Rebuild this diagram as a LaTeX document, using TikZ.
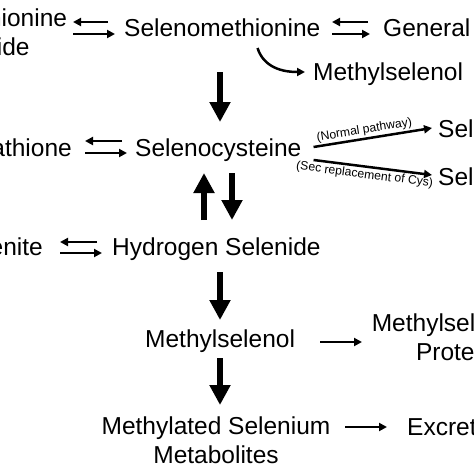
\documentclass[tikz,border=0pt]{standalone}
\usepackage{fontspec}
\setmainfont{Liberation Sans}
\usetikzlibrary{arrows.meta}
\begin{document}
\begin{tikzpicture}[x=1pt,y=-1pt,
  lbl/.style={inner sep=0pt, font=\fontsize{24.5}{28.5}\selectfont},
  lbl2/.style={lbl, align=center},
  tiny/.style={inner sep=1.5pt, font=\fontsize{12.2}{14}\selectfont},
  sa/.style={line width=2.5pt, -{Triangle[length=8pt,width=8pt]}},
  ba/.style={line width=6pt, -{Triangle[length=20pt,width=20pt]}}]
\useasboundingbox (0,0) rectangle (474,474);
\clip (0,0) rectangle (474,474);
\fill[white] (0,0) rectangle (474,474);
% nodes
\node[lbl, anchor=base west] (sem) at (124,36) {Selenomethionine};
\node[lbl2, anchor=base] (semox) at (-31,55) {Selenomethionine\\Selenoxide};
\node[lbl, anchor=base west] (gen) at (383,36) {General Proteins};
\node[lbl, anchor=base west] (msel1) at (313,80) {Methylselenol};
\node[lbl, anchor=base west] (sec) at (135,156) {Selenocysteine};
\node[lbl, anchor=base east] (glu) at (72,156) {Selenoglutathione};
\node[lbl, anchor=base west] (selp1) at (438,137) {Selenoproteins};
\node[lbl, anchor=base west] (selp2) at (438,185) {Selenium-containing Proteins};
\node[lbl, anchor=base west] (hse) at (112,255) {Hydrogen Selenide};
\node[lbl, anchor=base east] (selenite) at (43,255) {Selenite};
\node[lbl, anchor=base west] (msel2) at (145,347) {Methylselenol};
\node[lbl2, anchor=base] (mprot) at (461,360) {Methylselenated\\Proteins};
\node[lbl2, anchor=base] (mmet) at (216,463) {Methylated Selenium\\Metabolites};
\node[lbl, anchor=base west] (excr) at (407,435) {Excretion};
% equilibria top
\draw[sa] ([xshift=-16pt,yshift=14pt]sem.base west) -- ([xshift=-51pt,yshift=14pt]sem.base west);
\draw[sa] ([xshift=-51pt,yshift=2pt]sem.base west) -- ([xshift=-9pt,yshift=2pt]sem.base west);
\draw[sa] ([xshift=-15pt,yshift=14pt]gen.base west) -- ([xshift=-51pt,yshift=14pt]gen.base west);
\draw[sa] ([xshift=-51pt,yshift=2pt]gen.base west) -- ([xshift=-13pt,yshift=2pt]gen.base west);
% curved to methylselenol
\draw[sa] ([xshift=-63pt,yshift=-12pt]sem.base east) .. controls ([xshift=-58pt,yshift=-28pt]sem.base east) and ([xshift=-36pt,yshift=8pt]msel1.base west) .. ([xshift=-8pt,yshift=8pt]msel1.base west);
% big down
\draw[ba] ([xshift=96pt,yshift=-36pt]sem.base west) -- ([xshift=85pt,yshift=34pt]sec.base west);
% glu <-> sec
\draw[sa] ([xshift=-13pt,yshift=15pt]sec.base west) -- ([xshift=-50pt,yshift=15pt]sec.base west);
\draw[sa] ([xshift=-50pt,yshift=3pt]sec.base west) -- ([xshift=-8pt,yshift=3pt]sec.base west);
% branches
\draw[sa] ([xshift=12pt,yshift=9pt]sec.base east) -- node[tiny, sloped, above, pos=0.44] {(Normal pathway)} ([xshift=-6pt,yshift=9pt]selp1.base west);
\draw[sa] ([xshift=12pt,yshift=-4pt]sec.base east) -- node[tiny, sloped, below, pos=0.44] {(Sec replacement of Cys)} ([xshift=-6pt,yshift=10pt]selp2.base west);
% vertical pair
\draw[ba] ([xshift=92pt,yshift=35pt]hse.base west) -- ([xshift=69pt,yshift=-17pt]sec.base west);
\draw[ba] ([xshift=97pt,yshift=-17pt]sec.base west) -- ([xshift=120pt,yshift=35pt]hse.base west);
% selenite <-> hse
\draw[sa] ([xshift=-15pt,yshift=13pt]hse.base west) -- ([xshift=-52pt,yshift=13pt]hse.base west);
\draw[sa] ([xshift=-52pt,yshift=2pt]hse.base west) -- ([xshift=-10pt,yshift=2pt]hse.base west);
% down to methylselenol
\draw[ba] ([xshift=108pt,yshift=-17pt]hse.base west) -- ([xshift=75pt,yshift=27pt]msel2.base west);
% methylselenol -> proteins
\draw[sa] ([xshift=175pt,yshift=5pt]msel2.base west) -- ([xshift=217pt,yshift=5pt]msel2.base west);
% down to metabolites
\draw[ba] ([xshift=75pt,yshift=-11pt]msel2.base west) -- ([xshift=75pt,yshift=-58pt]msel2.base west);
% metabolites -> excretion
\draw[sa] ([xshift=-62pt,yshift=8pt]excr.base west) -- ([xshift=-20pt,yshift=8pt]excr.base west);
\end{tikzpicture}
\end{document}
